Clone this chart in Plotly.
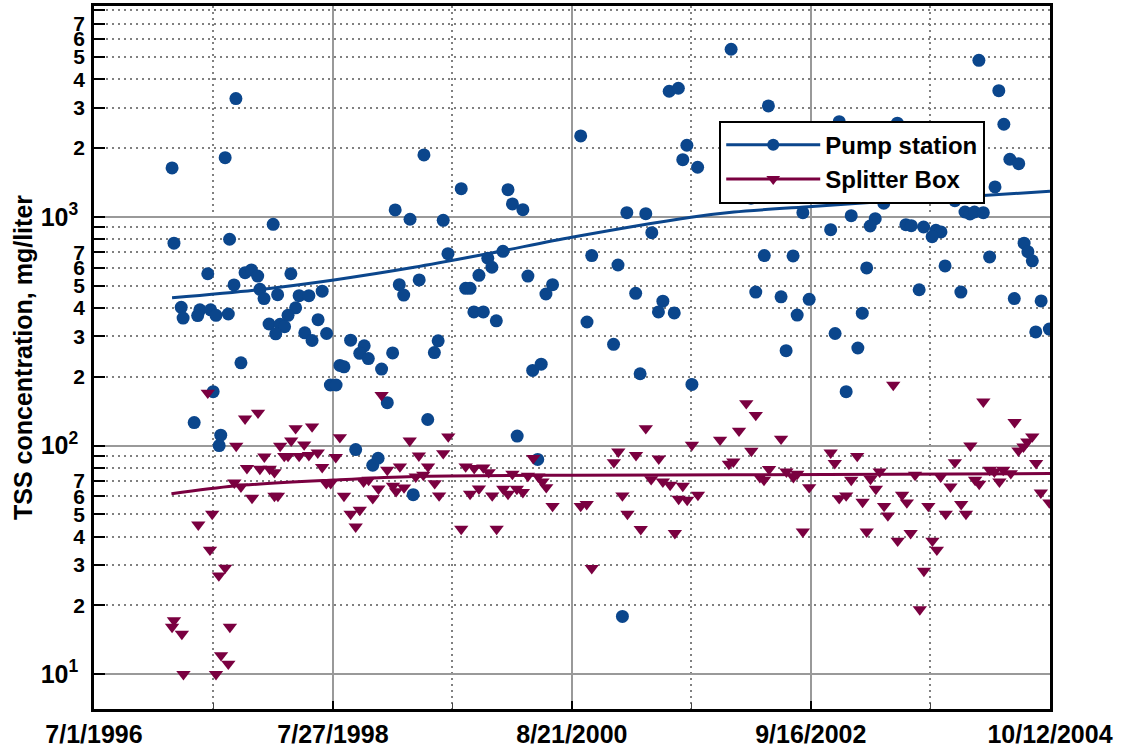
import pandas as pd
import plotly.graph_objects as go

START = pd.Timestamp("1996-07-01")

# ---- data (day offsets from 1996-07-01, TSS mg/liter) ----
pump_days = [449, 415, 247, 253, 429, 567, 953, 1000, 360, 478, 498, 518, 623, 443, 525, 538,
             581, 649, 680, 722, 966, 980, 276, 282, 335, 328, 369, 386, 425, 638, 614, 554,
             589, 603, 575, 667, 690, 709, 736, 465, 812, 855, 841, 868, 778, 791, 910, 945,
             377, 317, 401, 396, 748, 766, 928, 828, 882, 899, 1010,
             2016, 1540, 1820, 1849, 1876, 1863, 1910, 1044, 1162, 1310, 1324, 1357, 1105, 1686,
             1746, 1765, 1120, 1294, 1246, 1259, 1575, 1658, 1029, 1218, 1176, 1190, 1373, 1451,
             1430, 1202, 1232, 1273, 1714, 1800, 1786, 1836, 1560, 1644, 1089, 1077, 1388, 1415,
             1728, 1892, 1056, 1339, 1404, 1672,
             2800, 2863, 2879, 2134, 2358, 2542, 2898, 2926, 2851, 2041, 2079, 2724, 2499, 2243,
             2396, 2756, 2772, 2786, 2814, 2472, 2456, 2569, 2586, 2625, 2664, 2680, 2652, 2331,
             2943, 2955, 2969, 2121, 2212, 2834, 2445, 2693, 2094, 2174, 2263, 2611, 2743, 2912,
             2997, 2225, 2431, 2345, 2980, 3023, 2190, 2417, 2380]
pump_tss = [3290, 1815, 1636, 767, 798, 928, 1072, 976, 564, 570, 586, 551, 564, 504, 482, 439,
            457, 452, 452, 473, 505, 455, 402, 361, 392, 370, 392, 371, 376, 400, 371, 340,
            339, 331, 308, 311, 288, 355, 309, 230, 289, 273, 253, 240, 224, 221, 216, 254,
            172, 126, 111, 100, 184, 184, 154, 96, 82, 88, 61,
            5405, 2258, 3541, 3650, 2056, 1779, 1648, 1865, 1328, 1315, 1139, 1075, 966, 1043,
            1033, 853, 690, 707, 659, 602, 677, 616, 530, 555, 487, 487, 551, 505,
            460, 384, 384, 351, 463, 428, 384, 380, 347, 277, 287, 255, 213, 227,
            206, 185, 130, 110, 87, 17.9,
            4838, 3563, 2541, 3054, 2608, 2567, 1786, 1708, 1351, 1255, 1206, 1177, 1147, 1043,
            1012, 1050, 1030, 1050, 1043, 982, 912, 924, 915, 903, 874, 859, 819, 879,
            767, 704, 642, 677, 675, 668, 598, 610, 469, 447, 436, 480, 469, 439,
            429, 372, 379, 309, 314, 323, 260, 267, 172]

splitter_days = [360, 478, 519, 638, 690, 778, 910, 999, 450, 589, 624, 665, 539, 602, 614, 649,
                 680, 708, 765, 484, 525, 556, 571, 722, 928, 968, 444, 465, 735, 749, 853, 869,
                 900, 946, 956, 981, 500, 571, 582, 791, 882, 374, 330, 812, 841, 828, 367, 415,
                 395, 253, 247, 278, 430, 402, 425, 283, 386,
                 1121, 1028, 1105, 1057, 1042, 1018, 1078, 1092, 1162, 1274, 1176, 1203, 1232, 1249,
                 1324, 1373, 1390, 1406, 1419, 1431, 1190, 1218, 1260, 1295, 1310, 1338, 1357, 1451,
                 1540, 1559, 1575, 1645, 1659, 1672, 1688, 1715, 1730, 1746, 1763, 1787, 1800, 1823,
                 1850, 1863, 1838, 1877, 1892, 1911, 1981, 2009, 2023,
                 2529, 2064, 2094, 2041, 2174, 2080, 2136, 2107, 2120, 2191, 2213, 2225, 2263, 2243,
                 2331, 2344, 2415, 2396, 2358, 2380, 2432, 2445, 2486, 2457, 2474, 2500, 2512, 2557,
                 2572, 2543, 2584, 2598, 2640, 2653, 2667, 2626, 2613, 2679, 2710, 2695, 2724, 2744,
                 2759, 2773, 2814, 2788, 2801, 2834, 2849, 2865, 2877, 2901, 2913, 2925, 2941, 2953,
                 2969, 2981, 2996, 3023]
splitter_tss = [170, 131, 139, 119, 121, 108.7, 166, 105, 99.6, 99.6, 105, 101, 89.4, 90, 90, 90,
                90.7, 93.1, 88.9, 79.6, 79, 79, 76.4, 80.4, 78.2, 80.9, 68.8, 66.1, 68.4, 68.4, 69.5, 70.7,
                64.8, 66.6, 63.1, 65.5, 59, 60.2, 60.2, 60.2, 58.8, 50.2, 45.1, 50.2, 52.3, 44.2, 35, 29.2,
                27, 17.2, 16.1, 15, 16.1, 12.1, 11.1, 10, 10,
                109.4, 90.3, 92.5, 80.9, 74.4, 73.1, 68.4, 60.4, 43.2, 43.2, 80.9, 79.6, 80.1, 76.4,
                75.1, 73.6, 88, 73.1, 69.5, 65.7, 61.4, 64.8, 60.4, 64.6, 61.4, 64.6, 62.5, 54.4,
                54.4, 55.4, 29.1, 84.5, 94, 60.4, 50.2, 90.7, 43.1, 119, 71.2, 87.6, 69.5, 67.3,
                58.4, 66.6, 41.4, 57.8, 100.6, 60.8, 106, 83.1, 85,
                184, 153, 136, 116, 107, 94.7, 78.8, 72.7, 70.7, 76.9, 72.7, 75.1, 65.7, 42,
                93.1, 83.7, 90, 70.7, 58.8, 60.4, 56.7, 42, 76.9, 71.4, 64.6, 54.4, 49.4, 60.8,
                56.3, 38.3, 41.4, 74.4, 54.4, 38.3, 35, 28.3, 19.2, 73.1, 66.1, 50.2, 84.5, 55.4,
                50.2, 99.9, 155.6, 70.7, 67.9, 78.2, 76.9, 69.5, 78.2, 75.6, 126.5, 95, 98.9, 104,
                109.4, 83.7, 62.2, 56.3]

pump_trend_days = [247, 506, 759, 1013, 1262, 1512, 1889, 2025, 2272, 2500, 2740, 3025]
pump_trend_tss = [443, 478, 530, 602, 697, 814, 996, 1050, 1110, 1166, 1222, 1294]
splitter_trend_days = [245, 443, 759, 1013, 1512, 2025, 3025]
splitter_trend_tss = [61.6, 66.6, 70.7, 73.3, 74.2, 74.5, 75.4]

series_names = ["Pump station", "Splitter Box"]

x_major_dates = ["1996-07-01", "1998-07-27", "2000-08-21", "2002-09-16", "2004-10-12"]
x_major_labels = ["7/1/1996", "7/27/1998", "8/21/2000", "9/16/2002", "10/12/2004"]
x_minor_dates = ["1997-07-14", "1999-08-09", "2001-09-03", "2003-09-29"]

y_decades = [10, 100, 1000]
y_decade_labels = ["10<sup>1</sup>", "10<sup>2</sup>", "10<sup>3</sup>"]
y_minor_vals = [20, 30, 40, 50, 60, 70, 80, 90,
                200, 300, 400, 500, 600, 700, 800, 900,
                2000, 3000, 4000, 5000, 6000, 7000, 8000, 9000]
y_mid_vals = [20, 30, 40, 50, 60, 70,
              200, 300, 400, 500, 600, 700,
              2000, 3000, 4000, 5000, 6000, 7000]
y_mid_labels = ["2", "3", "4", "5", "6", "7"] * 3


def to_dates(days):
    return [START + pd.Timedelta(days=d) for d in days]


BLUE = "#0B468C"
MAROON = "#7A0040"
FONT = "Liberation Sans, Arial, sans-serif"
DOTS = "2px,4px"

fig = go.Figure()

fig.add_trace(go.Scatter(
    x=to_dates(pump_days), y=pump_tss, mode="markers", showlegend=False,
    marker=dict(symbol="circle", size=13, color=BLUE)))
fig.add_trace(go.Scatter(
    x=to_dates(splitter_days), y=splitter_tss, mode="markers", showlegend=False,
    marker=dict(symbol="triangle-down", size=12.5, color=MAROON)))

fig.add_trace(go.Scatter(
    x=to_dates(pump_trend_days), y=pump_trend_tss, mode="lines", showlegend=False,
    line=dict(color=BLUE, width=3, shape="spline", smoothing=0.8), yaxis="y2"))
fig.add_trace(go.Scatter(
    x=to_dates(splitter_trend_days), y=splitter_trend_tss, mode="lines", showlegend=False,
    line=dict(color=MAROON, width=3, shape="spline", smoothing=0.8), yaxis="y2"))

# legend entries (line + marker samples)
fig.add_trace(go.Scatter(x=[None], y=[None], mode="lines+markers", name=series_names[0],
                         line=dict(color=BLUE, width=3),
                         marker=dict(symbol="circle", size=12, color=BLUE)))
fig.add_trace(go.Scatter(x=[None], y=[None], mode="lines+markers", name=series_names[1],
                         line=dict(color=MAROON, width=3),
                         marker=dict(symbol="triangle-down", size=12, color=MAROON)))

YRANGE = [0.848, 3.922]

fig.update_layout(
    width=1122, height=756,
    margin=dict(l=94, r=72, t=6, b=47, autoexpand=False),
    paper_bgcolor="white", plot_bgcolor="white",
    font=dict(family=FONT, color="black"),
    xaxis=dict(
        type="date", range=["1996-07-01", "2004-10-12"],
        tickmode="array", tickvals=x_major_dates, ticktext=x_major_labels,
        tickfont=dict(size=25, weight="bold", family=FONT),
        ticks="inside", ticklen=8, tickwidth=1.5, tickcolor="black",
        ticklabelstandoff=1,
        showgrid=True, gridcolor="#999999", gridwidth=2,
        showline=True, linecolor="black", linewidth=2.5, mirror=True,
        zeroline=False,
        minor=dict(tickmode="array", tickvals=x_minor_dates, ticks="inside", ticklen=6,
                   tickwidth=1, tickcolor="#444444",
                   showgrid=True, gridcolor="#808080", gridwidth=1.5, griddash=DOTS),
    ),
    yaxis=dict(
        type="log", range=YRANGE,
        tickmode="array", tickvals=y_decades, ticktext=y_decade_labels,
        tickfont=dict(size=25, weight="bold", family=FONT),
        ticks="inside", ticklen=11, tickwidth=2, tickcolor="black",
        ticklabelstandoff=8,
        showgrid=True, gridcolor="#999999", gridwidth=2,
        showline=True, linecolor="black", linewidth=2.5, mirror=True,
        zeroline=False,
        title=dict(text="TSS concentration, mg/liter",
                   font=dict(size=25, weight="bold", family=FONT), standoff=1),
        minor=dict(tickmode="array", tickvals=y_minor_vals, ticks="inside", ticklen=11,
                   tickwidth=2, tickcolor="black",
                   showgrid=True, gridcolor="#808080", gridwidth=1.5, griddash=DOTS),
    ),
    yaxis2=dict(
        type="log", range=YRANGE, overlaying="y", side="left", anchor="x",
        tickmode="array", tickvals=y_mid_vals, ticktext=y_mid_labels,
        tickfont=dict(size=21, weight="bold", family=FONT),
        ticks="", ticklabelstandoff=8,
        showgrid=False, showline=False, zeroline=False,
    ),
    legend=dict(
        x=0.654, y=0.837, xanchor="left", yanchor="top",
        bgcolor="white", bordercolor="black", borderwidth=2,
        font=dict(size=24, weight="bold", family=FONT),
        itemwidth=94, tracegroupgap=0,
    ),
)

fig.write_html("out.html")
